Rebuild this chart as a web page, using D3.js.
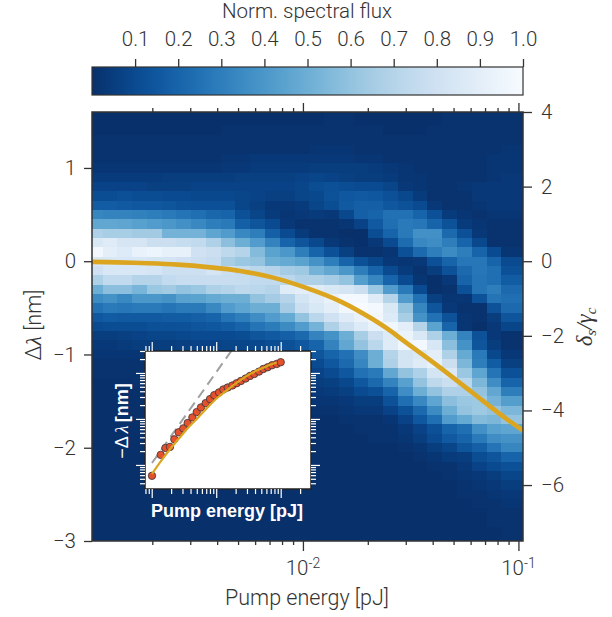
<!DOCTYPE html>
<html>
<head>
<meta charset="utf-8">
<script src="https://cdn.jsdelivr.net/npm/d3@7"></script>
<style>
  body { margin: 0; background: #fff; }
  svg { display: block; }
  text { font-family: Roboto, "Liberation Sans", sans-serif; font-weight: 300; fill: #333; }
  .inset-label { font-family: "Liberation Sans", sans-serif; font-weight: 700; fill: #fff; }
  .math { font-family: "Liberation Serif", serif; font-style: italic; }
</style>
</head>
<body>
<script>
// Pump energy at the centre of each heatmap column [pJ].
const pumpEnergy = [
  0.00109, 0.00127, 0.00149, 0.00174, 0.00204, 0.00239, 0.00280, 0.00328, 0.00384, 0.00449,
  0.00526, 0.00616, 0.00721, 0.00845, 0.00989, 0.01158, 0.01356, 0.01588, 0.01860, 0.02178,
  0.02550, 0.02986, 0.03497, 0.04095, 0.04796, 0.05616, 0.06577, 0.07701, 0.09018
];
// Wavelength shift at the centre of each heatmap row [nm].
const shiftRows = [
  1.6, 1.5, 1.4, 1.3, 1.2, 1.1, 1.0, 0.9, 0.8, 0.7, 0.6, 0.5, 0.4, 0.3, 0.2, 0.1,
  0.0, -0.1, -0.2, -0.3, -0.4, -0.5, -0.6, -0.7, -0.8, -0.9, -1.0, -1.1, -1.2, -1.3, -1.4, -1.5,
  -1.6, -1.7, -1.8, -1.9, -2.0, -2.1, -2.2, -2.3, -2.4, -2.5, -2.6, -2.7, -2.8, -2.9, -3.0
];
// Normalised flux in percent, one line per row of shiftRows.
const fluxPercent = [
  [0,0,0,0,0,0,0,0,0,0, 0,0,0,0,0,0,1,1,0,0, 0,0,0,0,1,1,1,1,1],
  [0,0,0,0,0,0,0,0,0,0, 0,0,0,0,0,0,1,1,0,0, 0,0,0,0,1,1,1,1,1],
  [0,0,0,0,0,0,0,0,0,1, 1,1,1,1,1,1,1,1,1,1, 0,0,0,1,1,1,1,1,1],
  [1,1,1,1,1,1,1,1,1,1, 1,1,1,1,1,1,1,1,1,1, 1,1,1,1,1,1,1,1,1],
  [1,1,1,1,1,1,1,1,1,1, 1,1,1,1,1,2,2,2,1,1, 1,1,1,1,1,1,1,1,2],
  [1,1,1,1,1,1,1,1,1,2, 2,3,3,3,3,3,3,3,2,2, 1,1,1,1,1,1,1,2,2],
  [2,2,2,2,2,2,2,2,2,3, 3,4,4,4,4,5,5,5,5,4, 3,2,1,1,1,1,1,2,2],
  [4,4,4,4,4,5,5,5,5,5, 6,6,6,6,7,8,7,6,5,5, 4,2,2,1,1,1,1,2,3],
  [7,7,7,7,6,6,6,7,7,7, 7,7,7,7,8,11,12,11,10,10, 8,3,2,1,1,2,3,3,3],
  [11,11,12,11,11,10,10,9,9,9, 8,7,6,6,8,9,13,15,16,15, 12,9,4,1,1,1,3,3,3],
  [17,17,16,15,15,14,13,12,12,12, 8,6,3,3,4,8,11,16,18,18, 15,13,10,3,1,1,2,3,3],
  [33,32,32,31,30,28,26,24,21,20, 12,8,4,2,3,4,3,9,18,20, 25,25,20,12,4,2,1,2,2],
  [47,47,46,44,42,40,37,34,30,28, 18,14,10,3,1,1,1,2,7,16, 24,28,27,20,13,4,2,1,1],
  [68,66,66,64,64,52,52,52,46,42, 34,30,18,10,4,1,1,0,0,11, 20,28,37,37,22,12,3,1,1],
  [85,88,83,83,78,78,76,74,68,58, 50,42,32,20,14,9,3,1,0,3, 10,23,34,36,30,20,9,1,1],
  [97,90,87,93,95,92,92,80,78,73, 70,56,45,40,30,20,12,6,1,1, 2,12,22,30,35,30,20,10,2],
  [85,85,84,84,82,82,80,78,76,66, 62,60,50,48,45,38,30,20,12,8, 3,2,3,12,20,27,27,20,10],
  [80,84,84,84,83,79,79,79,83,78, 75,72,70,65,63,52,47,40,30,20, 10,4,1,5,13,22,27,24,12],
  [68,74,74,70,70,75,77,77,77,77, 76,74,74,72,68,68,65,60,43,33, 20,10,2,0,3,20,26,24,17],
  [50,58,58,53,62,64,60,62,68,70, 73,72,70,88,90,88,85,83,78,62, 42,28,10,0,1,12,26,30,22],
  [35,38,34,40,40,38,44,45,48,50, 50,60,65,70,82,88,93,98,98,88, 70,42,25,6,2,2,13,26,24],
  [25,28,27,28,28,26,28,28,34,42, 46,50,50,65,78,85,90,97,100,98, 85,60,33,14,3,1,1,13,22],
  [15,17,16,16,16,17,17,18,20,26, 30,36,42,48,60,72,80,88,93,97, 87,66,38,25,13,2,1,5,14],
  [10,11,11,11,12,12,13,14,15,17, 20,26,29,35,42,52,68,79,87,93, 96,90,70,45,20,2,0,3,8],
  [5,5,6,7,8,8,9,10,10,10, 11,14,16,18,22,32,38,50,66,78, 87,94,85,68,50,32,13,3,1],
  [3,3,4,5,5,5,6,7,7,8, 8,9,11,12,15,20,32,47,60,72, 88,96,98,84,58,38,14,5,1],
  [2,2,2,2,3,3,4,4,4,5, 5,6,7,8,11,14,20,25,36,50, 70,82,86,90,68,48,28,9,3],
  [1,1,1,1,2,2,2,2,3,3, 3,4,4,5,7,10,15,22,33,50, 68,82,88,92,78,54,30,17,6],
  [1,1,1,1,1,1,1,1,2,2, 3,3,3,4,5,7,10,15,25,28, 47,60,68,82,86,62,46,26,12],
  [0,0,0,1,1,1,1,1,1,1, 2,2,2,3,3,5,6,9,15,22, 32,44,60,73,78,72,54,36,20],
  [0,0,0,0,0,0,0,1,1,1, 1,1,1,1,1,3,4,6,10,12, 20,36,50,60,68,68,60,47,30],
  [0,0,0,0,0,0,0,0,0,0, 1,1,1,1,1,2,2,3,5,5, 13,24,34,46,58,62,63,52,43],
  [0,0,0,0,0,0,0,0,0,0, 0,0,0,0,0,1,1,2,3,3, 7,13,22,35,50,60,63,60,54],
  [0,0,0,0,0,0,0,0,0,0, 0,0,0,0,0,0,0,1,1,1, 2,7,15,24,42,48,56,54,60],
  [0,0,0,0,0,0,0,0,0,0, 0,0,0,0,0,0,0,0,1,1, 1,3,7,12,20,24,37,44,46],
  [0,0,0,0,0,0,0,0,0,0, 0,0,0,0,0,0,0,0,0,1, 1,2,5,10,16,20,28,36,38],
  [0,0,0,0,0,0,0,0,0,0, 0,0,0,0,0,0,0,0,0,0, 0,1,2,5,8,14,18,26,33],
  [0,0,0,0,0,0,0,0,0,0, 0,0,0,0,0,0,0,0,0,0, 0,0,1,2,4,5,11,14,20],
  [0,0,0,0,0,0,0,0,0,0, 0,0,0,0,0,0,0,0,0,0, 0,0,0,1,1,3,7,10,12],
  [0,0,0,0,0,0,0,0,0,0, 0,0,0,0,0,0,0,0,0,0, 0,0,0,0,1,2,3,5,8],
  [0,0,0,0,0,0,0,0,0,0, 0,0,0,0,0,0,0,0,0,0, 0,0,0,0,0,1,2,3,5],
  [0,0,0,0,0,0,0,0,0,0, 0,0,0,0,0,0,0,0,0,0, 0,0,0,0,0,1,1,2,3],
  [0,0,0,0,0,0,0,0,0,0, 0,0,0,0,0,0,0,0,0,0, 0,0,0,0,0,0,1,1,2],
  [0,0,0,0,0,0,0,0,0,0, 0,0,0,0,0,0,0,0,0,0, 0,0,0,0,0,0,0,1,1],
  [0,0,0,0,0,0,0,0,0,0, 0,0,0,0,0,0,0,0,0,0, 0,0,0,0,0,0,0,1,1],
  [0,0,0,0,0,0,0,0,0,0, 0,0,0,0,0,0,0,0,0,0, 0,0,0,0,0,0,0,0,1],
  [0,0,0,0,0,0,0,0,0,0, 0,0,0,0,0,0,0,0,0,0, 0,0,0,0,0,0,0,0,1]
];

// Gold model curve, same in the main plot and the inset (inset shows -shift).
const modelEnergy = [0.00101, 0.00138, 0.00192, 0.00262, 0.00361, 0.00512, 0.00728, 0.01044, 0.0149, 0.0212, 0.0254, 0.0298, 0.0424, 0.0608, 0.0867, 0.105];
const modelShift = [-0.0064, -0.012, -0.022, -0.037, -0.063, -0.104, -0.176, -0.289, -0.43, -0.625, -0.745, -0.865, -1.125, -1.405, -1.68, -1.815];

// Inset: measured red dots and the grey dashed guide.
const dotEnergy = [
  0.00101, 0.00138, 0.00163, 0.00192, 0.00224, 0.00262, 0.00309, 0.00361, 0.00427, 0.00499,
  0.00581, 0.00687, 0.00802, 0.00933, 0.01104, 0.01288, 0.01507, 0.01778, 0.0208, 0.0242,
  0.0286, 0.0334, 0.0389, 0.0461, 0.0537, 0.0628, 0.0733, 0.0867, 0.1
];
const dotShift = [
  0.00581, 0.01656, 0.0234, 0.0247, 0.0361, 0.0513, 0.0625, 0.0815, 0.108, 0.141,
  0.178, 0.221, 0.27, 0.329, 0.377, 0.437, 0.483, 0.533, 0.598, 0.671,
  0.757, 0.861, 0.951, 1.07, 1.22, 1.33, 1.47, 1.57, 1.71
];
const dashEnergy = [0.00101, 0.0174];
const dashShift = [0.011, 3.1];

const colorbarTicks = [0.1, 0.2, 0.3, 0.4, 0.5, 0.6, 0.7, 0.8, 0.9, 1.0];
const minorTicksMain = [0.002, 0.003, 0.004, 0.005, 0.006, 0.007, 0.008, 0.009, 0.02, 0.03, 0.04, 0.05, 0.06, 0.07, 0.08, 0.09];
const majorTicksMain = [0.01, 0.1];
const shiftTicks = [1, 0, -1, -2, -3];
const detuningTicks = [4, 2, 0, -2, -4, -6];
const insetMajorX = [0.001, 0.01, 0.1];
const insetMinorX = [0.0009, 0.0008, 0.002, 0.003, 0.004, 0.005, 0.006, 0.007, 0.008, 0.009, 0.02, 0.03, 0.04, 0.05, 0.06, 0.07, 0.08, 0.09, 0.2];
const insetMajorY = [0.01, 0.1, 1];
const insetMinorY = [0.004, 0.005, 0.006, 0.007, 0.008, 0.009, 0.02, 0.03, 0.04, 0.05, 0.06, 0.07, 0.08, 0.09, 0.2, 0.3, 0.4, 0.5, 0.6, 0.7, 0.8, 0.9, 2, 3];

const plot = { left: 92, right: 523, top: 112, bottom: 541 };
const bar = { top: 67, bottom: 95 };
const inset = { left: 145, right: 311, top: 351, bottom: 489 };
const frameColor = "#333";
const gold = "#dca520";

const svg = d3.select("body").append("svg").attr("width", 612).attr("height", 617);

const x = d3.scaleLog().domain([0.00105, 0.105]).range([plot.left, plot.right]);
const y = d3.scaleLinear().domain([-3, 1.6]).range([plot.bottom, plot.top]);
const yRight = d3.scaleLinear().domain([-7.5, 4]).range([plot.bottom, plot.top]);
const barX = d3.scaleLinear().domain([0, 1]).range([plot.left, plot.right]);
const color = (v) => d3.interpolateBlues(1 - v);

const insetX = d3.scaleLog().domain([0.000787, 0.295]).range([inset.left, inset.right]);
const insetY = d3.scaleLog().domain([0.003, 3]).range([inset.bottom, inset.top]);

svg.append("clipPath").attr("id", "plot-clip").append("rect")
  .attr("x", plot.left).attr("y", plot.top)
  .attr("width", plot.right - plot.left).attr("height", plot.bottom - plot.top);
svg.append("clipPath").attr("id", "inset-clip").append("rect")
  .attr("x", inset.left).attr("y", inset.top)
  .attr("width", inset.right - inset.left).attr("height", inset.bottom - inset.top);

// Column edges sit half way (in log space) between neighbouring centres.
const edgeLow = (i) => i === 0 ? x.domain()[0] : Math.sqrt(pumpEnergy[i - 1] * pumpEnergy[i]);
const edgeHigh = (i) => i === pumpEnergy.length - 1 ? x.domain()[1] : Math.sqrt(pumpEnergy[i] * pumpEnergy[i + 1]);

const cells = fluxPercent.flatMap((row, r) => row.map((v, c) => ({ r, c, v: v / 100 })));
svg.append("g").attr("clip-path", "url(#plot-clip)").attr("shape-rendering", "crispEdges")
  .selectAll("rect").data(cells).join("rect")
  .attr("x", (d) => x(edgeLow(d.c)))
  .attr("width", (d) => x(edgeHigh(d.c)) - x(edgeLow(d.c)) + 0.5)
  .attr("y", (d) => y(shiftRows[d.r] + 0.05))
  .attr("height", (d) => y(shiftRows[d.r] - 0.05) - y(shiftRows[d.r] + 0.05) + 0.5)
  .attr("fill", (d) => color(d.v));

// Gold curve on the heatmap.
const modelLine = d3.line()
  .x((d, i) => x(modelEnergy[i]))
  .y((d) => y(d))
  .curve(d3.curveCatmullRom);
svg.append("path").datum(modelShift)
  .attr("clip-path", "url(#plot-clip)")
  .attr("d", modelLine)
  .attr("fill", "none").attr("stroke", gold).attr("stroke-width", 4.6);

// Frame and axes of the main plot.
svg.append("rect")
  .attr("x", plot.left).attr("y", plot.top)
  .attr("width", plot.right - plot.left).attr("height", plot.bottom - plot.top)
  .attr("fill", "none").attr("stroke", frameColor).attr("stroke-width", 1.5);

function styleAxis(g, stroke, width) {
  g.select(".domain").remove();
  g.selectAll("line").attr("stroke", stroke).attr("stroke-width", width);
  g.selectAll("text").attr("font-family", null).style("font-size", "20.5px").attr("fill", "#333");
}
function tickAxis(axis, values, size, translate, stroke = frameColor, width = 1.3) {
  svg.append("g").attr("transform", translate)
    .call(axis.tickValues(values).tickSize(size).tickFormat(""))
    .call(styleAxis, stroke, width);
}

tickAxis(d3.axisBottom(x), minorTicksMain, 4, `translate(0,${plot.bottom})`);
tickAxis(d3.axisBottom(x), majorTicksMain, 10, `translate(0,${plot.bottom})`);
tickAxis(d3.axisTop(x), minorTicksMain, 4, `translate(0,${plot.top})`);
tickAxis(d3.axisTop(x), majorTicksMain, 9, `translate(0,${plot.top})`);

// Power-of-ten labels with a raised exponent.
const powerLabels = svg.append("g").selectAll("text").data(majorTicksMain).join("text")
  .attr("x", (d) => x(d)).attr("y", 575)
  .attr("text-anchor", "middle").style("font-size", "20.5px");
powerLabels.append("tspan").text("10");
powerLabels.append("tspan").attr("dy", -7).style("font-size", "14px")
  .text((d) => "-" + Math.round(-Math.log10(d)));

svg.append("text").attr("x", 307).attr("y", 605).attr("text-anchor", "middle")
  .style("font-size", "21.5px").text("Pump energy [pJ]");

svg.append("g").attr("transform", `translate(${plot.left},0)`)
  .call(d3.axisLeft(y).tickValues(shiftTicks).tickSize(8).tickPadding(8).tickFormat(d3.format("d")))
  .call(styleAxis, frameColor, 1.3);
svg.append("g").attr("transform", `translate(${plot.right},0)`)
  .call(d3.axisRight(yRight).tickValues(detuningTicks).tickSize(9).tickPadding(9).tickFormat(d3.format("d")))
  .call(styleAxis, frameColor, 1.3);

const leftLabel = svg.append("text")
  .attr("transform", "translate(41,325) rotate(-90)")
  .attr("text-anchor", "middle").style("font-size", "21.5px");
leftLabel.append("tspan").text("\u0394");
leftLabel.append("tspan").attr("class", "math").text("\u03bb");
leftLabel.append("tspan").text(" [nm]");

const rightLabel = svg.append("text")
  .attr("transform", "translate(592,327) rotate(-90)")
  .attr("text-anchor", "middle").style("font-size", "23px");
rightLabel.append("tspan").attr("class", "math").text("\u03b4");
rightLabel.append("tspan").attr("class", "math").attr("dy", 4).style("font-size", "15px").text("s");
rightLabel.append("tspan").attr("class", "math").attr("dy", -4).text("/\u03b3");
rightLabel.append("tspan").attr("class", "math").attr("dy", 4).style("font-size", "15px").text("c");

// Colour bar.
const gradient = svg.append("linearGradient").attr("id", "flux-gradient");
gradient.selectAll("stop").data(d3.range(0, 1.001, 0.05)).join("stop")
  .attr("offset", (d) => d)
  .attr("stop-color", (d) => color(d));
svg.append("rect")
  .attr("x", plot.left).attr("y", bar.top)
  .attr("width", plot.right - plot.left).attr("height", bar.bottom - bar.top)
  .attr("fill", "url(#flux-gradient)")
  .attr("stroke", frameColor).attr("stroke-width", 1.2);
svg.append("g").attr("transform", `translate(0,${bar.top})`)
  .call(d3.axisTop(barX).tickValues(colorbarTicks).tickSize(8).tickPadding(13).tickFormat(d3.format(".1f")))
  .call(styleAxis, frameColor, 1.3);
svg.append("text").attr("x", 307).attr("y", 18).attr("text-anchor", "middle")
  .style("font-size", "20.5px").text("Norm. spectral flux");

// Inset.
svg.append("rect")
  .attr("x", inset.left).attr("y", inset.top)
  .attr("width", inset.right - inset.left).attr("height", inset.bottom - inset.top)
  .attr("fill", "#fff");

const insetPlot = svg.append("g").attr("clip-path", "url(#inset-clip)");
const dashLine = d3.line().x((d, i) => insetX(dashEnergy[i])).y((d) => insetY(d));
insetPlot.append("path").datum(dashShift)
  .attr("d", dashLine)
  .attr("fill", "none").attr("stroke", "#a0a0a0").attr("stroke-width", 2).attr("stroke-dasharray", "10,6");
insetPlot.selectAll("circle").data(dotShift).join("circle")
  .attr("cx", (d, i) => insetX(dotEnergy[i]))
  .attr("cy", (d) => insetY(d))
  .attr("r", 3.7)
  .attr("fill", "#e5502d").attr("stroke", "#4a3a3a").attr("stroke-width", 0.9);
const insetLine = d3.line()
  .x((d, i) => insetX(modelEnergy[i]))
  .y((d) => insetY(-d))
  .curve(d3.curveCatmullRom);
insetPlot.append("path").datum(modelShift.slice(0, -1))
  .attr("d", insetLine)
  .attr("fill", "none").attr("stroke", gold).attr("stroke-width", 2.2);

svg.append("rect")
  .attr("x", inset.left).attr("y", inset.top)
  .attr("width", inset.right - inset.left).attr("height", inset.bottom - inset.top)
  .attr("fill", "none").attr("stroke", "#222").attr("stroke-width", 1.5);

const insetTranslate = {
  bottom: `translate(0,${inset.bottom})`, top: `translate(0,${inset.top})`,
  left: `translate(${inset.left},0)`, right: `translate(${inset.right},0)`
};
for (const [make, side] of [[d3.axisBottom, "bottom"], [d3.axisTop, "top"]]) {
  tickAxis(make(insetX), insetMinorX, 5, insetTranslate[side], "#fff", 1.2);
  tickAxis(make(insetX), insetMajorX, 9, insetTranslate[side], "#fff", 1.2);
}
for (const [make, side] of [[d3.axisLeft, "left"], [d3.axisRight, "right"]]) {
  tickAxis(make(insetY), insetMinorY, 5, insetTranslate[side], "#fff", 1.2);
  tickAxis(make(insetY), insetMajorY, 9, insetTranslate[side], "#fff", 1.2);
}

svg.append("text").attr("class", "inset-label").attr("x", 227).attr("y", 517)
  .attr("text-anchor", "middle").style("font-size", "18px").text("Pump energy [pJ]");
const insetYLabel = svg.append("text").attr("class", "inset-label")
  .attr("transform", "translate(128,421) rotate(-90)")
  .attr("text-anchor", "middle").style("font-size", "18px");
insetYLabel.append("tspan").style("font-weight", 400).text("\u2212\u0394");
insetYLabel.append("tspan").attr("class", "math").style("font-weight", 400).attr("dx", 3).text("\u03bb");
insetYLabel.append("tspan").attr("dx", 3).text("[nm]");
</script>
</body>
</html>
